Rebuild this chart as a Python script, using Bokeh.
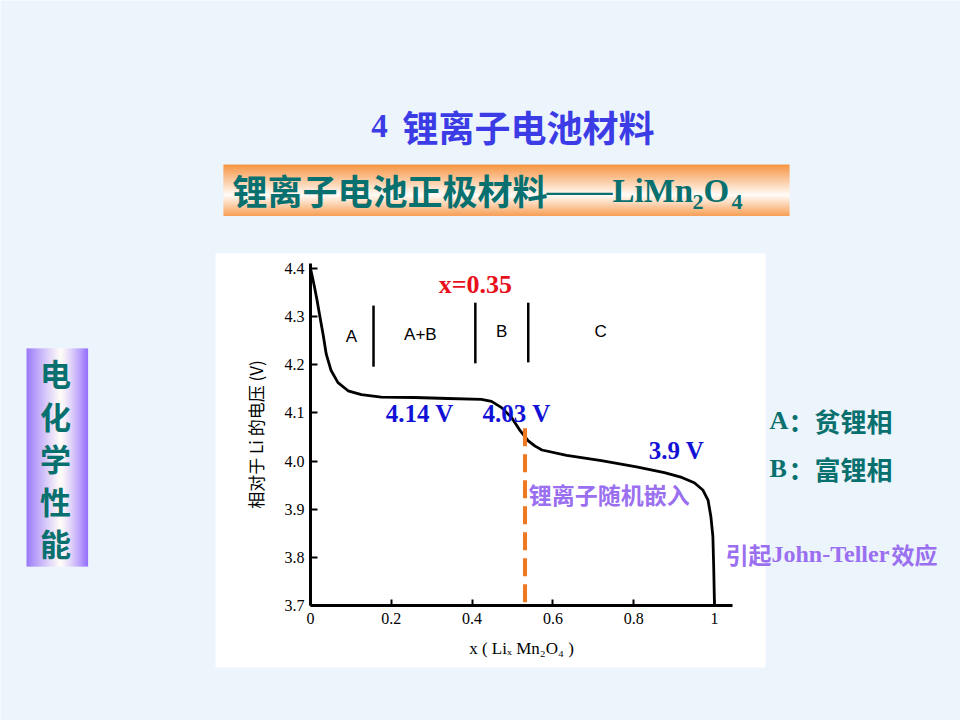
from bokeh.plotting import figure
from bokeh.models import Range1d, LinearAxis, FixedTicker, NumeralTickFormatter
from bokeh.core.properties import value
from bokeh.embed import file_html
from bokeh.resources import INLINE

# ---------------- data ----------------
x_frac = [0.000, 0.004, 0.010, 0.016, 0.022, 0.031, 0.039, 0.051, 0.068, 0.093,
          0.126, 0.175, 0.258, 0.340, 0.423, 0.448, 0.473, 0.498, 0.519, 0.539,
          0.556, 0.573, 0.634, 0.720, 0.807, 0.876, 0.919, 0.950, 0.971, 0.984,
          0.991, 0.996, 0.998, 1.000]
voltage = [4.400, 4.385, 4.361, 4.335, 4.306, 4.264, 4.222, 4.188, 4.163, 4.146,
           4.138, 4.133, 4.132, 4.130, 4.128, 4.124, 4.111, 4.090, 4.063, 4.042,
           4.031, 4.023, 4.012, 4.001, 3.988, 3.976, 3.966, 3.955, 3.940, 3.919,
           3.885, 3.843, 3.781, 3.700]

y_ticks = [3.7, 3.8, 3.9, 4.0, 4.1, 4.2, 4.3, 4.4]
x_ticks = [0, 0.2, 0.4, 0.6, 0.8, 1.0]

phase_x = [0.156, 0.408, 0.539]
phase_top = [4.323, 4.329, 4.329]
phase_bot = [4.196, 4.203, 4.205]
region_names = ["A", "A+B", "B", "C"]
region_x = [0.101, 0.272, 0.473, 0.718]
region_v = [4.259, 4.263, 4.269, 4.269]

plateau_text = ["4.14 V", "4.03 V", "3.9 V"]
plateau_x = [0.186, 0.426, 0.837]
plateau_v = [4.098, 4.098, 4.022]

marker_x = 0.531           # orange dashed line
marker_v = [4.068, 3.694]
x035_x, x035_v = 0.408, 4.367

# ---------------- layout constants (page pixels) ----------------
W, H = 960, 720
BG = "#edf5fc"
X0, X1 = 310, 714          # px of x=0 and x=1
VB, VT = 605, 268          # px of V=3.7 and V=4.4
sx = (X1 - X0) / 1.0
sv = (VB - VT) / 0.7

p = figure(width=W, height=H, title=None,
           x_range=Range1d(0 - X0 / sx, (W - X0) / sx),
           y_range=Range1d(3.7 - (H - VB) / sv, 3.7 + VB / sv),
           x_axis_type=None, y_axis_type=None,
           min_border=0, outline_line_color=None,
           background_fill_color=BG, border_fill_color=BG,
           toolbar_location=None, output_backend="svg")
p.extra_x_ranges = {"px": Range1d(0, W)}
p.extra_y_ranges = {"px": Range1d(H, 0)}
PX = dict(x_range_name="px", y_range_name="px")


def mix(c1, c2, s):
    return "#%02x%02x%02x" % tuple(int(round(a + (b - a) * s)) for a, b in zip(c1, c2))


# white chart panel
p.quad(left=[215], right=[765], top=[253], bottom=[667], color="white", line_color=None, **PX)

# banner with vertical orange gradient
b_l, b_r, b_t, b_b = 223, 789, 164, 215
o_top, wht, o_bot = (246, 148, 66), (255, 252, 248), (247, 160, 88)
bl, br, bt, bb, bc = [], [], [], [], []
n = b_b - b_t
for i in range(n):
    t = (i + 0.5) / n
    c = mix(o_top, wht, t / 0.6) if t < 0.6 else mix(wht, o_bot, (t - 0.6) / 0.4)
    bl.append(b_l); br.append(b_r); bt.append(b_t + i); bb.append(b_t + i + 1.6); bc.append(c)
p.quad(left=bl, right=br, top=bt, bottom=bb, color=bc, line_color=None, **PX)

# left vertical bar with horizontal purple gradient
v_l, v_r, v_t, v_b = 26, 87, 348, 566
purp, purp2 = (152, 118, 250), (150, 112, 252)
vl, vr, vt, vb, vc = [], [], [], [], []
n = v_r - v_l
for i in range(n):
    t = (i + 0.5) / n
    c = mix(purp, wht, (t / 0.55) ** 0.9) if t < 0.55 else mix(wht, purp2, ((t - 0.55) / 0.45) ** 1.3)
    vl.append(v_l + i); vr.append(v_l + i + 1.6); vt.append(v_t); vb.append(v_b); vc.append(c)
p.quad(left=vl, right=vr, top=vt, bottom=vb, color=vc, line_color=None, **PX)

TEAL = "#08706e"
CJK = value("Noto Sans CJK SC")
SERIF = value("Liberation Serif")

# title
p.text(x=[379], y=[125], text=["4"], text_font=SERIF, text_font_size=value("33px"),
       text_font_style="bold", text_color="#3c3ce6", text_align="center", text_baseline="middle", **PX)
p.text(x=[528], y=[125], text=["锂离子电池材料"], text_font=CJK, text_font_size=value("36px"),
       text_font_style="bold", text_color="#3c3ce6", text_align="center", text_baseline="middle", **PX)

# banner text
p.text(x=[232], y=[189], text=["锂离子电池正极材料"], text_font=CJK, text_font_size=value("35px"),
       text_font_style="bold", text_color=TEAL, text_align="left", text_baseline="middle", **PX)
p.text(x=[546, 703], y=[190, 190], text=["——LiMn", "O"], text_font=SERIF, text_font_size=value("33px"),
       text_font_style="bold", text_color=TEAL, text_align="left", text_baseline="middle", **PX)
p.text(x=[692, 731], y=[201, 201], text=["2", "4"], text_font=SERIF, text_font_size=value("22px"),
       text_font_style="bold", text_color=TEAL, text_align="left", text_baseline="middle", **PX)

# left vertical label
side_chars = list("电化学性能")
p.text(x=[55] * 5, y=[372 + 42.5 * i for i in range(5)], text=side_chars, text_font=CJK,
       text_font_size=value("31px"), text_font_style="bold", text_color=TEAL,
       text_align="center", text_baseline="middle", **PX)

# phase notes on the right
p.text(x=[769, 769], y=[420, 468], text=["A", "B"], text_font=SERIF, text_font_size=value("26px"),
       text_font_style="bold", text_color=TEAL, text_align="left", text_baseline="middle", **PX)
p.text(x=[788, 788], y=[420, 468], text=["：贫锂相", "：富锂相"], text_font=CJK, text_font_size=value("26px"),
       text_font_style="bold", text_color=TEAL, text_align="left", text_baseline="middle", **PX)

# ---------------- chart ----------------
p.line(x=x_frac, y=voltage, line_color="black", line_width=2.8, line_join="round")
p.segment(x0=phase_x, y0=phase_bot, x1=phase_x, y1=phase_top, line_color="black", line_width=2.5)
p.text(x=region_x, y=region_v, text=region_names, text_font=value("Liberation Sans"),
       text_font_size=value("17px"), text_color="black", text_align="center", text_baseline="middle")
p.segment(x0=[marker_x], y0=[marker_v[0]], x1=[marker_x], y1=[marker_v[1]],
          line_color="#f07820", line_width=4, line_dash="18 8")

p.text(x=plateau_x, y=plateau_v, text=plateau_text, text_font=SERIF, text_font_size=value("25px"),
       text_font_style="bold", text_color="#1212d6", text_align="left", text_baseline="middle")
p.text(x=[x035_x], y=[x035_v], text=["x=0.35"], text_font=SERIF, text_font_size=value("26px"),
       text_font_style="bold", text_color="#e8101a", text_align="center", text_baseline="middle")

PURPLE = "#9a6ff0"
p.text(x=[0.540], y=[3.931], text=["锂离子随机嵌入"], text_font=CJK, text_font_size=value("23px"),
       text_font_style="bold", text_color=PURPLE, text_align="left", text_baseline="middle")
p.text(x=[725], y=[553], text=["引起"], text_font=CJK, text_font_size=value("23px"),
       text_font_style="bold", text_color=PURPLE, text_align="left", text_baseline="middle", **PX)
p.text(x=[771], y=[553], text=["John-Teller"], text_font=SERIF, text_font_size=value("24px"),
       text_font_style="bold", text_color=PURPLE, text_align="left", text_baseline="middle", **PX)
p.text(x=[937], y=[553], text=["效应"], text_font=CJK, text_font_size=value("23px"),
       text_font_style="bold", text_color=PURPLE, text_align="right", text_baseline="middle", **PX)

# axes at fixed data locations
yax = LinearAxis(fixed_location=0.0, bounds=(3.7, 4.41),
                 ticker=FixedTicker(ticks=y_ticks), formatter=NumeralTickFormatter(format="0.0"),
                 axis_line_width=3, major_tick_in=7, major_tick_out=0, major_tick_line_width=2,
                 minor_tick_line_color=None, major_label_standoff=6,
                 major_label_text_font="Liberation Serif", major_label_text_font_size="16px",
                 major_label_text_color="black",
                 axis_label="相对于 Li 的电压 (V)", axis_label_text_font="Noto Sans CJK SC",
                 axis_label_text_font_style="normal", axis_label_text_font_size="17px",
                 axis_label_standoff=14, axis_label_text_color="black")
p.add_layout(yax, "left")
xax = LinearAxis(fixed_location=3.7, bounds=(0.0, 1.045),
                 ticker=FixedTicker(ticks=x_ticks), formatter=NumeralTickFormatter(format="0.[0]"),
                 axis_line_width=3, major_tick_in=6, major_tick_out=0, major_tick_line_width=2,
                 minor_tick_line_color=None, major_label_standoff=7,
                 major_label_text_font="Liberation Serif", major_label_text_font_size="16px",
                 major_label_text_color="black",
                 axis_label="x ( Liₓ Mn₂O₄ )", axis_label_text_font="Liberation Serif",
                 axis_label_text_font_style="normal", axis_label_text_font_size="17px",
                 axis_label_standoff=12, axis_label_text_color="black")
p.add_layout(xax, "below")

open("out.html", "w").write(file_html(p, INLINE))
